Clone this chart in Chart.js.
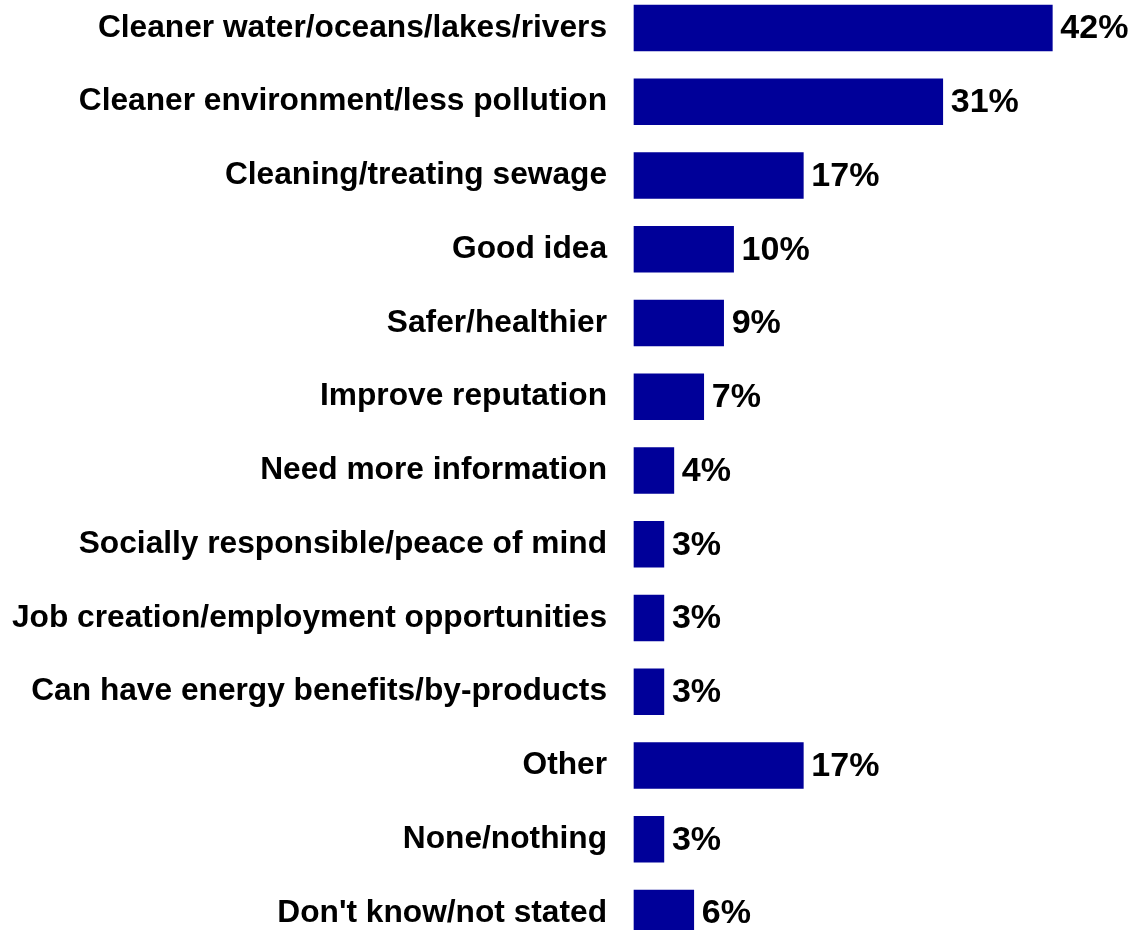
<!DOCTYPE html>
<html>
<head>
<meta charset="utf-8">
<script src="https://cdn.jsdelivr.net/npm/chart.js@4.4.0/dist/chart.umd.min.js"></script>
<style>
  html, body { margin: 0; padding: 0; background: #fff; }
  #wrap { width: 1130px; height: 930px; }
</style>
</head>
<body>
<div id="wrap"><canvas id="myChart"></canvas></div>
<script>
var categories = [
    'Cleaner water/oceans/lakes/rivers',
    'Cleaner environment/less pollution',
    'Cleaning/treating sewage',
    'Good idea',
    'Safer/healthier',
    'Improve reputation',
    'Need more information',
    'Socially responsible/peace of mind',
    'Job creation/employment opportunities',
    'Can have energy benefits/by-products',
    'Other',
    'None/nothing',
    "Don't know/not stated"
];
var percents = [42, 31, 17, 10, 9, 7, 4, 3, 3, 3, 17, 3, 6];

var fontFamily = "'Liberation Sans', Arial, sans-serif";
var labelFont = { family: fontFamily, size: 31.7, weight: 'bold' };

// writes "NN%" just to the right of each bar
var valueLabels = {
    id: 'valueLabels',
    afterDatasetsDraw: function(chart) {
        var ctx = chart.ctx;
        var meta = chart.getDatasetMeta(0);
        ctx.save();
        ctx.font = 'bold 34px ' + fontFamily;
        ctx.fillStyle = '#000';
        ctx.textAlign = 'left';
        ctx.textBaseline = 'middle';
        meta.data.forEach(function(bar, i) {
            ctx.fillText(percents[i] + '%', bar.x + 8, bar.y + 1);
        });
        ctx.restore();
    }
};

var ctx = document.getElementById('myChart').getContext('2d');

var graphData = {
    type: 'bar',
    data: {
        labels: categories,
        datasets: [{
            data: percents,
            backgroundColor: '#000099',
            borderWidth: 0,
            barThickness: 46,
            clip: false
        }]
    },
    options: {
        indexAxis: 'y',
        responsive: true,
        maintainAspectRatio: false,
        animation: false,
        layout: { padding: { top: 28, bottom: 17, right: 0, left: 0 } },
        plugins: {
            legend: { display: false },
            tooltip: { enabled: false }
        },
        scales: {
            x: {
                display: false,
                min: 0,
                max: 49.8
            },
            y: {
                offset: false,
                grid: { display: false, drawTicks: false },
                border: { display: false },
                ticks: {
                    color: '#000',
                    font: labelFont,
                    padding: 27,
                    autoSkip: false
                },
                afterFit: function(scale) {
                    scale.width = 634;
                    // first/last category sit right on the padded edges
                    scale.paddingTop = 0;
                    scale.paddingBottom = 0;
                }
            }
        }
    },
    plugins: [valueLabels]
};

var myChart = new Chart(ctx, graphData);
</script>
</body>
</html>
